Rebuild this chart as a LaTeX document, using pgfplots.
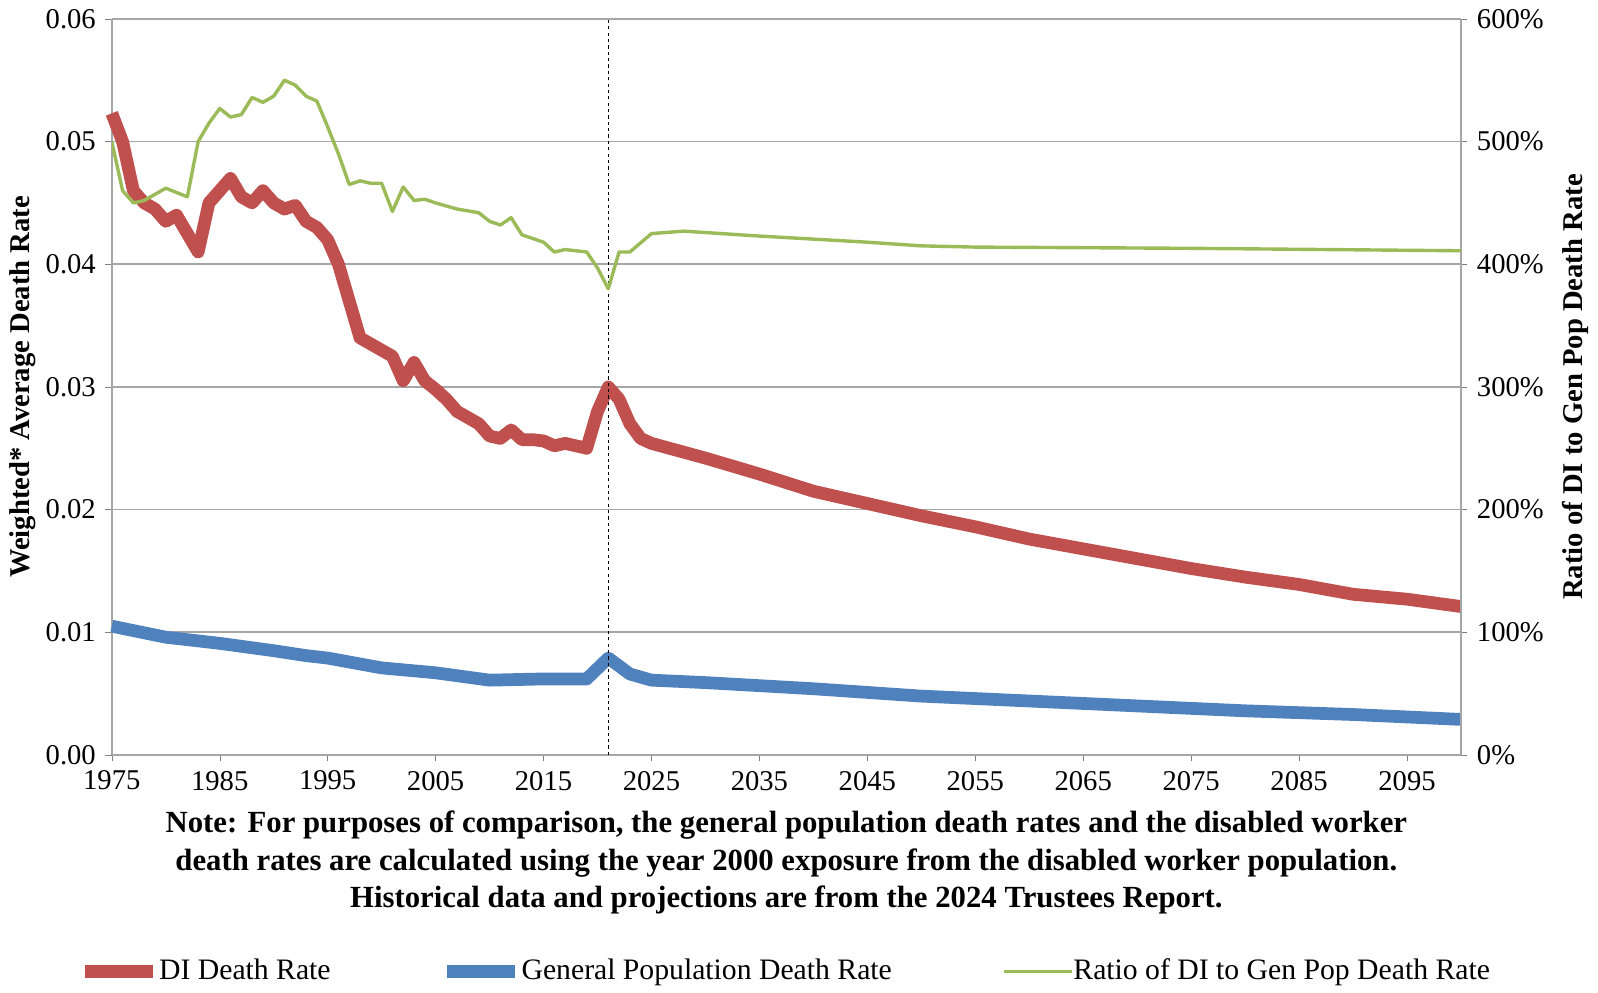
\documentclass[border=0pt]{standalone}
\usepackage{pgfplots}
\pgfplotsset{compat=1.18}
\usepackage{fontspec}
\setmainfont{Liberation Serif}
\definecolor{cred}{HTML}{C0504D}
\definecolor{cblue}{HTML}{4F81BD}
\definecolor{cgreen}{HTML}{9BBB59}
\begin{document}
\fontsize{13}{15}\selectfont
\begin{tikzpicture}
\pgfplotsset{every axis/.append style={
  width=636pt, height=347pt, scale only axis,
  xmin=1975, xmax=2100,
  tick label style={font=\fontsize{13.5}{15}\selectfont},
  label style={font=\fontsize{13.5}{15}\selectfont\bfseries},
  /pgf/number format/assume math mode=true,
  tick align=outside, major tick length=3pt}}
\begin{axis}[
  axis x line*=bottom, axis y line*=left,
  ymin=0, ymax=0.06, ytick={0,0.01,...,0.06},
  yticklabel style={/pgf/number format/fixed,/pgf/number format/fixed zerofill,/pgf/number format/precision=2},
  scaled y ticks=false,
  xtick={1975,1985,...,2095},
  xticklabel style={/pgf/number format/1000 sep={}},
  ymajorgrids, grid style={gray!70, line width=0.8pt},
  axis line style={gray!70, line width=0.8pt},
  ylabel={Weighted* Average Death Rate},
  ylabel style={yshift=-4pt},
  clip=false]
\addplot[cred, line width=6pt, line join=round] coordinates {
(1975,0.0523)(1976,0.0500)(1977,0.0460)(1978,0.0450)(1979,0.0445)(1980,0.0435)(1981,0.0440)(1982,0.0425)(1983,0.0410)(1984,0.0450)(1985,0.0460)(1986,0.0470)(1987,0.0455)(1988,0.0450)(1989,0.0460)(1990,0.0450)(1991,0.0445)(1992,0.0448)(1993,0.0435)(1994,0.0430)(1995,0.0420)(1996,0.0400)(1997,0.0370)(1998,0.0340)(1999,0.0335)(2000,0.0330)(2001,0.0325)(2002,0.0305)(2003,0.0320)(2004,0.0305)(2005,0.0298)(2006,0.0290)(2007,0.0280)(2008,0.0275)(2009,0.0270)(2010,0.0260)(2011,0.0258)(2012,0.0265)(2013,0.0257)(2014,0.0257)(2015,0.0256)(2016,0.0252)(2017,0.0254)(2018,0.0252)(2019,0.0250)(2020,0.0280)(2021,0.0300)(2022,0.0290)(2023,0.0270)(2024,0.0258)(2025,0.0254)(2030,0.0242)(2035,0.0229)(2040,0.0215)(2045,0.0205)(2050,0.0195)(2055,0.0186)(2060,0.0176)(2065,0.0168)(2070,0.0160)(2075,0.0152)(2080,0.0145)(2085,0.0139)(2090,0.0131)(2095,0.0127)(2100,0.0121)};
\addplot[cblue, line width=6pt, line join=round] coordinates {
(1975,0.0105)(1980,0.0096)(1985,0.0091)(1990,0.0085)(1993,0.0081)(1995,0.0079)(2000,0.0071)(2005,0.0067)(2010,0.0061)(2015,0.0062)(2019,0.0062)(2021,0.0079)(2023,0.0066)(2025,0.0061)(2030,0.0059)(2040,0.0054)(2050,0.0048)(2060,0.0044)(2070,0.0040)(2080,0.0036)(2090,0.0033)(2100,0.0029)};
\draw[black, dash pattern=on 1.5pt off 1.5pt, line width=0.5pt] (axis cs:2021,0) -- (axis cs:2021,0.06);
\node[font=\fontsize{14.5}{17.5}\selectfont\bfseries, align=center, anchor=north] at ([yshift=-22pt]current axis.south) {Note: For purposes of comparison, the general population death rates and the disabled worker\\ death rates are calculated using the year 2000 exposure from the disabled worker population.\\ Historical data and projections are from the 2024 Trustees Report.};
\end{axis}
\begin{axis}[
  axis x line=none, axis y line*=right,
  ymin=0, ymax=600, ytick={0,100,...,600},
  yticklabel={\pgfmathprintnumber{\tick}\%},
  axis line style={gray!70, line width=0.8pt},
  ylabel={Ratio of DI to Gen Pop Death Rate},
  legend columns=3,
  legend style={at={(0.5,-0.265)}, anchor=north, draw=none, font=\fontsize{14}{16}\selectfont,
    /tikz/every even column/.append style={column sep=50pt},
    /tikz/every odd column/.append style={column sep=-2pt}},
  legend image code/.code={\draw[#1] (0pt,0pt) -- (32pt,0pt);},
  legend cell align=left]
\addlegendimage{cred, line width=6pt}
\addlegendentry{DI Death Rate}
\addlegendimage{cblue, line width=6pt}
\addlegendentry{General Population Death Rate}
\addplot[cgreen, line width=1.6pt, line join=round] coordinates {
(1975,500)(1976,460)(1977,450)(1978,452)(1980,462)(1982,455)(1983,500)(1984,515)(1985,527)(1986,520)(1987,522)(1988,536)(1989,532)(1990,537)(1991,550)(1992,546)(1993,537)(1994,533)(1995,512)(1996,490)(1997,465)(1998,468)(1999,466)(2000,466)(2001,443)(2002,463)(2003,452)(2004,453)(2005,450)(2007,445)(2009,442)(2010,435)(2011,432)(2012,438)(2013,424)(2015,418)(2016,410)(2017,412)(2019,410)(2020,397)(2021,380)(2022,410)(2023,410)(2025,425)(2028,427)(2035,423)(2045,418)(2050,415)(2055,414)(2075,413)(2100,411)};
\addlegendentry{Ratio of DI to Gen Pop Death Rate}
\end{axis}
\end{tikzpicture}
\end{document}
